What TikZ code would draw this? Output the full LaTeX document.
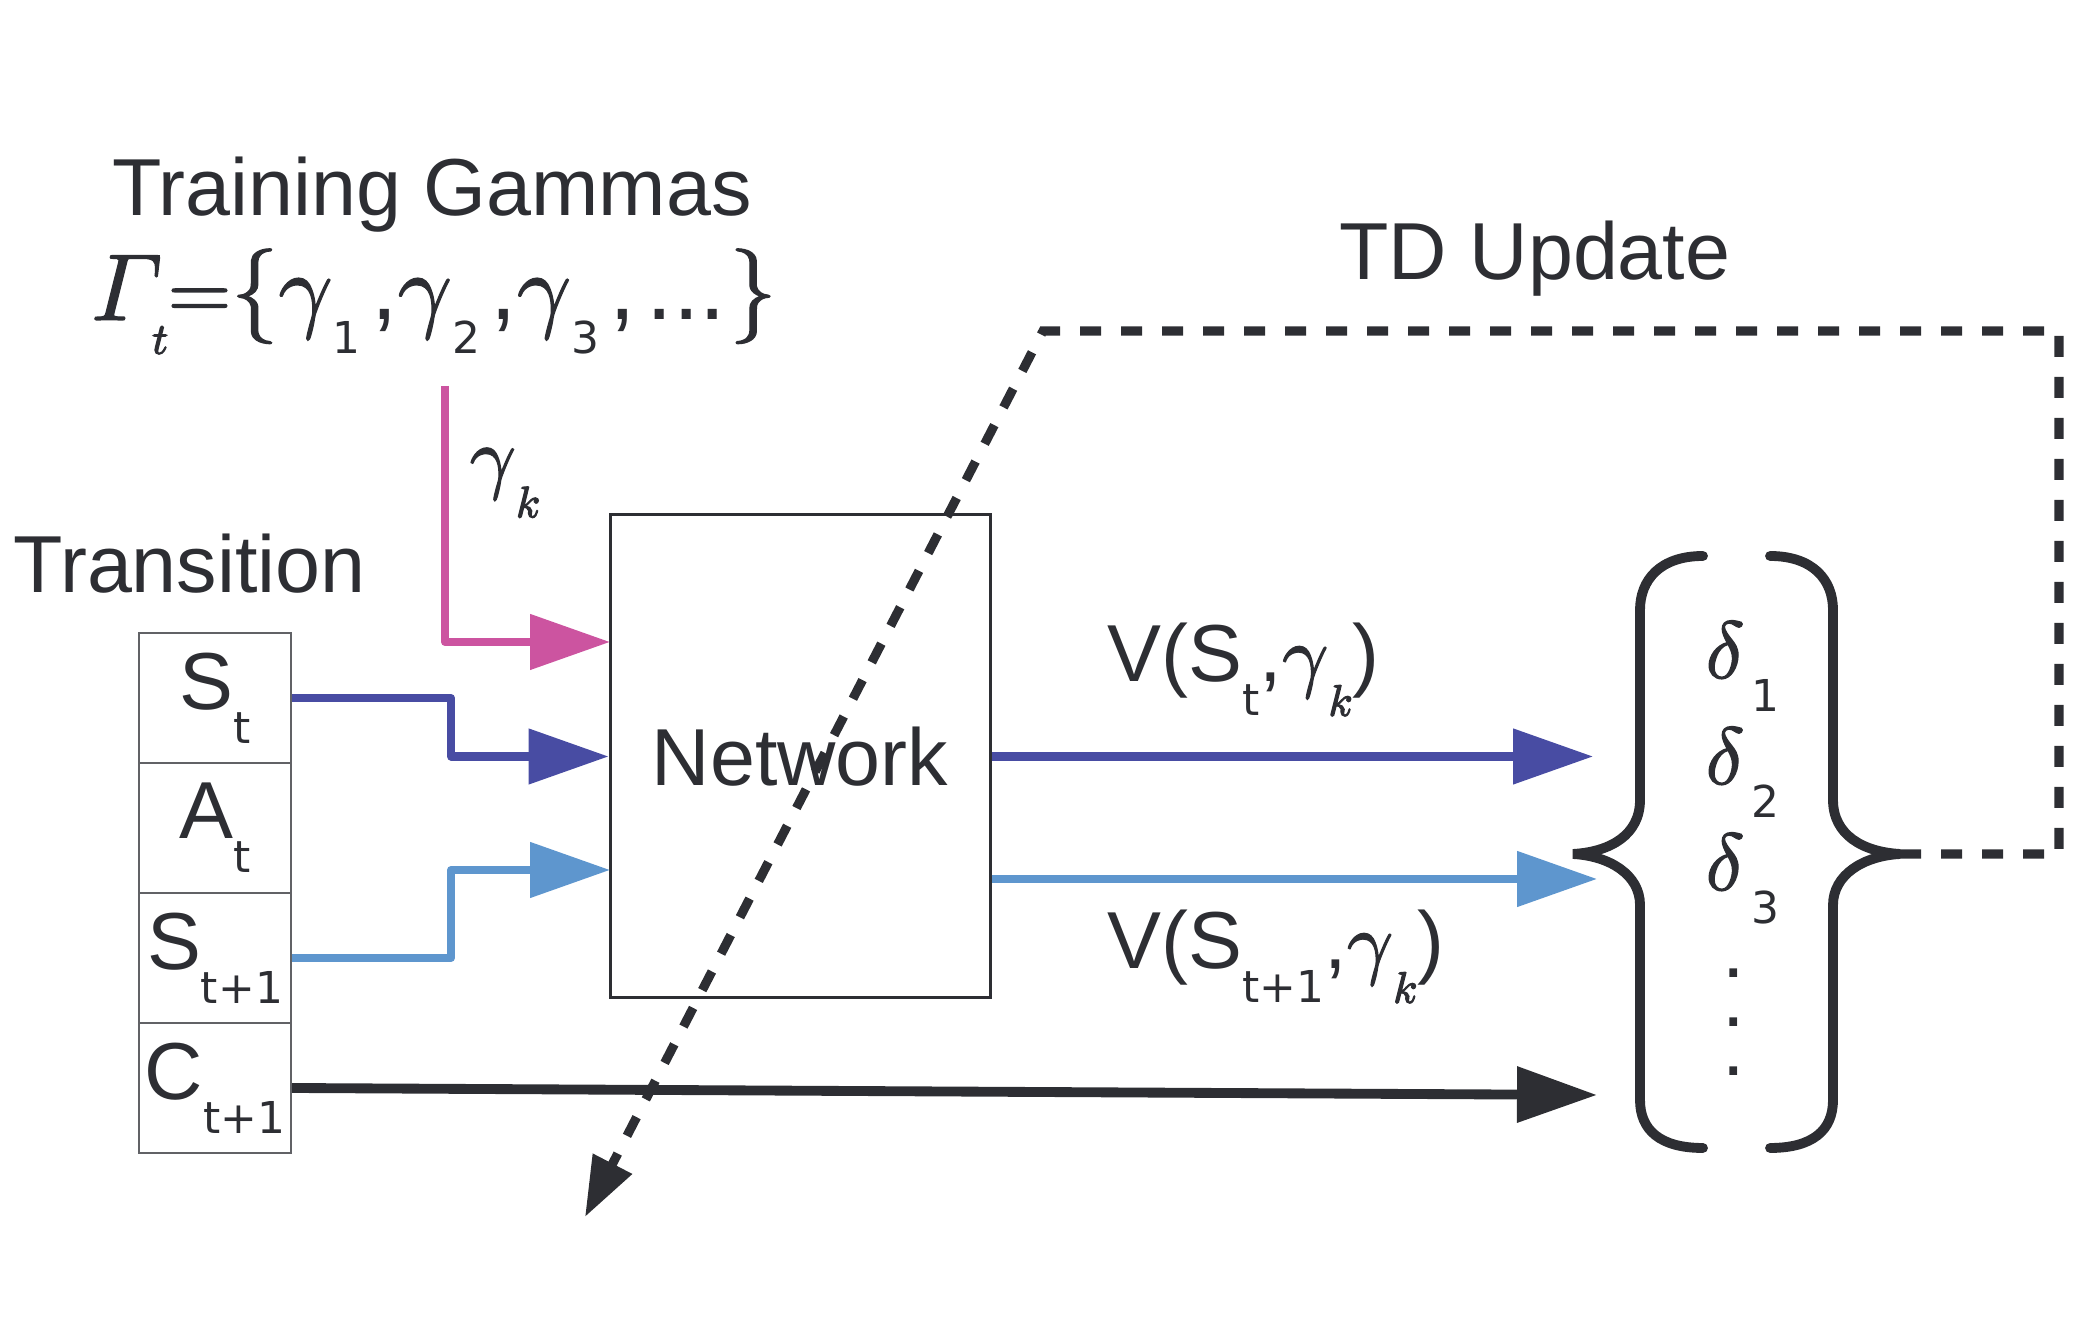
\documentclass[tikz,border=0pt]{standalone}
\usepackage{amsmath}
\usepackage{fontspec}
\setmainfont{Liberation Sans}
\newfontfamily\subfont{DejaVu Sans}
\DeclareFontShape{OML}{cmm}{m}{it}{<->cmmi10}{}
\DeclareFontShape{OMS}{cmsy}{m}{n}{<->cmsy10}{}
\usetikzlibrary{arrows.meta}
\definecolor{ink}{RGB}{45,46,51}
\definecolor{gpink}{RGB}{204,84,160}
\definecolor{vblue}{RGB}{72,76,163}
\definecolor{nblue}{RGB}{94,150,206}
\newcommand{\lowidx}[1]{\raisebox{-9.6pt}{\subfont\fontsize{12.5}{12.5}\selectfont #1}}
\newcommand{\heavy}[1]{\special{pdf:literal direct 2 Tr 0.35 w}#1\special{pdf:literal direct 0 Tr}}

\begin{document}
\begin{tikzpicture}[
    lbl/.style={font=\fontsize{23}{27}\selectfont, text=ink, inner sep=0pt},
    cell/.style={draw=ink!75, line width=0.6pt, minimum width=1.52cm, minimum height=1.30cm,
                 inner sep=0pt, font=\fontsize{23}{27}\selectfont, text=ink},
    netbox/.style={draw=ink, line width=0.85pt, minimum width=3.80cm, minimum height=4.83cm,
                   font=\fontsize{23}{27}\selectfont, text=ink},
    feed/.style={line width=2.3pt, line join=round, -{Triangle[length=8mm,width=5.4mm]}},
    tdline/.style={ink, line width=2.6pt, dash pattern=on 2.1mm off 2mm,
                   -{Triangle[length=6mm,width=4.2mm]}},
    curly/.style={ink, line width=2.8pt, line cap=round}
]
    \useasboundingbox (0,0) rectangle (20.76,13.20);

    % Training gammas
    \node[lbl, anchor=base] (title) at (4.32,11.04) {Training Gammas};
    \node[lbl, anchor=base, font=\fontsize{27}{30}\selectfont] (gset) at (4.34,10.00)
        {\heavy{$\varGamma$}\kern-3pt\lowidx{\heavy{$t$}}\heavy{$\mathord{=}\{\gamma$}\lowidx{1}\kern3pt,%
         \heavy{$\gamma$}\lowidx{2}\kern3pt,\heavy{$\gamma$}\lowidx{3}\kern3pt,\kern3pt...\kern1pt\heavy{$\}$}};
    \coordinate (gtop) at (4.45,9.34);
    \node[lbl] (gk) at (5.05,8.37) {\heavy{$\gamma$}\lowidx{\heavy{$k$}}};

    % Transition
    \node[lbl, anchor=base west] (trans) at (0.13,7.27) {Transition};
    \node[cell] (st) at (2.15,6.22) {S\lowidx{t}};
    \node[cell] (at) at (2.15,4.92) {A\lowidx{t}};
    \node[cell] (sn) at (2.15,3.62) {S\lowidx{t+1}};
    \node[cell] (cn) at (2.15,2.32) {C\lowidx{t+1}};

    % Network
    \node[netbox] (net) at (8.00,5.635) {Network};
    \coordinate (elbow) at (4.51,0);
    \coordinate (inG) at (6.10,6.78);
    \coordinate (inN) at (6.10,4.50);

    % Inputs
    \draw[feed, gpink] (gtop) |- (inG);
    \draw[feed, vblue] (st.east) -| (elbow |- net.west) -- (net.west);
    \draw[feed, nblue] (sn.east) -| (elbow |- inN) -- (inN);

    % Outputs
    \coordinate (outS) at (15.93,5.635);
    \coordinate (outN) at (15.97,4.41);
    \coordinate (outC) at (15.97,2.25);
    \draw[feed, vblue] (net.east) -- (outS);
    \draw[feed, nblue] (net.east |- outN) -- (outN);
    \draw[feed, ink, line width=2.8pt] (cn.east) -- (outC);
    \node[lbl, anchor=base west] (vst) at (11.07,6.38)
        {V(S\lowidx{t},\heavy{$\gamma$}\lowidx{\heavy{$k$}})};
    \node[lbl, anchor=base west] (vsn) at (11.07,3.51)
        {V(S\lowidx{t+1},\heavy{$\gamma$}\lowidx{\heavy{$k$}})};

    % Deltas
    \draw[curly] (17.03,7.64) .. controls (16.60,7.64) and (16.40,7.40) .. (16.40,7.10)
        -- (16.40,5.20) .. controls (16.40,4.85) and (16.10,4.68) .. (15.73,4.66)
        .. controls (16.10,4.64) and (16.40,4.45) .. (16.40,4.15)
        -- (16.40,2.20) .. controls (16.40,1.90) and (16.60,1.72) .. (17.03,1.72);
    \draw[curly] (17.70,7.64) .. controls (18.13,7.64) and (18.33,7.40) .. (18.33,7.10)
        -- (18.33,5.20) .. controls (18.33,4.85) and (18.63,4.68) .. (19.00,4.66)
        .. controls (18.63,4.64) and (18.33,4.45) .. (18.33,4.15)
        -- (18.33,2.20) .. controls (18.33,1.90) and (18.13,1.72) .. (17.70,1.72);
    \node[lbl, anchor=base west] (d1) at (17.05,6.42) {\heavy{$\delta$}\kern2pt\lowidx{1}};
    \node[lbl, anchor=base west] (d2) at (17.05,5.36) {\heavy{$\delta$}\kern2pt\lowidx{2}};
    \node[lbl, anchor=base west] (d3) at (17.05,4.30) {\heavy{$\delta$}\kern2pt\lowidx{3}};
    \node[lbl, align=center, font=\fontsize{23}{13.9}\selectfont] (dots) at (17.34,2.98) {.\\.\\.};

    % TD update
    \node[lbl, anchor=base] (td) at (15.35,10.40) {TD Update};
    \coordinate (rtip) at (19.00,4.66);
    \coordinate (tdA) at (20.59,4.66);
    \coordinate (tdB) at (20.59,9.89);
    \coordinate (tdC) at (10.43,9.89);
    \coordinate (tdEnd) at (5.85,1.03);
    \draw[tdline] (rtip) -- (tdA) -- (tdB) -- (tdC) -- (tdEnd);
\end{tikzpicture}
\end{document}
